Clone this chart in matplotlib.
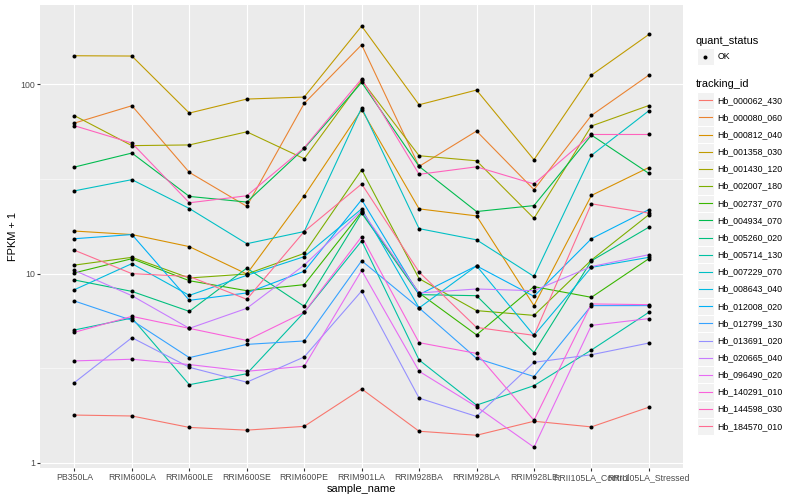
import matplotlib
matplotlib.use("Agg")
import matplotlib.pyplot as plt
from matplotlib.patches import Rectangle
from matplotlib.lines import Line2D
from matplotlib.ticker import FixedLocator, NullFormatter
import numpy as np

samples = ["PB350LA", "RRIM600LA", "RRIM600LE", "RRIM600SE", "RRIM600PE", "RRIM901LA",
           "RRIM928BA", "RRIM928LA", "RRIM928LE", "RRII105LA_Control", "RRII105LA_Stressed"]

tracking_ids = ["Hb_000062_430", "Hb_000080_060", "Hb_000812_040", "Hb_001358_030",
                "Hb_001430_120", "Hb_002007_180", "Hb_002737_070", "Hb_004934_070",
                "Hb_005260_020", "Hb_005714_130", "Hb_007229_070", "Hb_008643_040",
                "Hb_012008_020", "Hb_012799_130", "Hb_013691_020", "Hb_020665_040",
                "Hb_096490_020", "Hb_140291_010", "Hb_144598_030", "Hb_184570_010"]

# FPKM + 1 per sample
hb_000062_430 = [1.79, 1.77, 1.54, 1.49, 1.56, 2.46, 1.47, 1.40, 1.66, 1.55, 1.97]
hb_000080_060 = [62.5, 77.2, 34.3, 22.7, 79.4, 162, 36.9, 56.7, 27.8, 68.6, 112]
hb_000812_040 = [16.8, 16.1, 13.9, 9.96, 25.8, 73.5, 22.0, 20.2, 6.78, 25.9, 36.4]
hb_001358_030 = [141.8, 141.3, 70.6, 83.7, 85.8, 203.5, 78.1, 93.4, 40.0, 112, 183.7]
hb_001430_120 = [68.4, 47.5, 47.9, 56.2, 40.5, 105, 42.0, 39.5, 19.6, 60.3, 77.4]
hb_002007_180 = [11.1, 12.2, 9.49, 9.96, 12.8, 35.4, 9.41, 6.38, 6.02, 11.8, 20.5]
hb_002737_070 = [10.1, 12.0, 9.18, 8.13, 8.75, 21.2, 7.91, 4.75, 8.54, 7.50, 12.0]
hb_004934_070 = [36.6, 43.4, 25.6, 23.9, 45.9, 102.5, 36.9, 21.3, 22.9, 54.0, 33.9]
hb_005260_020 = [9.26, 8.06, 6.32, 10.7, 6.72, 20.9, 7.75, 7.65, 3.83, 11.7, 17.6]
hb_005714_130 = [5.04, 5.83, 2.59, 2.96, 6.25, 14.9, 3.50, 2.02, 2.56, 3.95, 6.25]
hb_007229_070 = [27.4, 31.4, 22.1, 14.4, 16.7, 75.3, 17.3, 15.1, 9.67, 42.2, 72.6]
hb_008643_040 = [8.23, 11.3, 7.68, 9.80, 12.3, 22.0, 6.59, 11.0, 4.72, 10.8, 12.2]
hb_012008_020 = [15.3, 16.1, 7.23, 7.91, 10.3, 24.6, 7.75, 11.0, 7.59, 15.3, 21.8]
hb_012799_130 = [7.17, 5.67, 3.60, 4.23, 4.41, 11.7, 6.59, 3.57, 2.86, 6.78, 6.78]
hb_013691_020 = [2.66, 4.59, 3.20, 2.67, 3.63, 8.1, 2.20, 1.76, 3.40, 3.73, 4.30]
hb_020665_040 = [10.4, 7.65, 5.14, 6.56, 11.1, 21.5, 7.91, 8.30, 8.13, 10.9, 12.6]
hb_096490_020 = [3.46, 3.53, 3.31, 3.05, 3.24, 10.4, 3.05, 1.98, 1.21, 5.33, 5.79]
hb_140291_010 = [4.90, 5.95, 5.14, 4.44, 6.25, 15.7, 4.32, 3.79, 1.68, 6.92, 6.86]
hb_144598_030 = [60.5, 49.0, 23.7, 25.8, 46.3, 107, 33.5, 36.7, 29.8, 54.4, 54.4]
hb_184570_010 = [13.3, 10.0, 9.67, 7.32, 16.7, 29.8, 10.2, 5.20, 4.72, 23.4, 20.9]

series = [hb_000062_430, hb_000080_060, hb_000812_040, hb_001358_030, hb_001430_120,
          hb_002007_180, hb_002737_070, hb_004934_070, hb_005260_020, hb_005714_130,
          hb_007229_070, hb_008643_040, hb_012008_020, hb_012799_130, hb_013691_020,
          hb_020665_040, hb_096490_020, hb_140291_010, hb_144598_030, hb_184570_010]

# ggplot hue palette for 20 levels
palette = ["#F8766D", "#EA8331", "#D89000", "#C09B00", "#A3A500", "#7CAE00", "#39B600",
           "#00BB4E", "#00BF7D", "#00C1A3", "#00BFC4", "#00BAE0", "#00B0F6", "#35A2FF",
           "#9590FF", "#C77CFF", "#E76BF3", "#FA62DB", "#FF62BC", "#FF6C91"]

W, H, DPI = 800, 500, 72


def px(x, y):
    # pixel coords (from top-left) to figure fraction
    return x / W, 1 - y / H


def main():
    plt.rcParams['font.family'] = ['Liberation Sans', 'DejaVu Sans']
    fig = plt.figure(figsize=(W / DPI, H / DPI), dpi=DPI)
    left, top, right, bottom = 40, 5, 683.3, 468.3
    ax = fig.add_axes([left / W, 1 - bottom / H, (right - left) / W, (bottom - top) / H])
    ax.set_facecolor("#EBEBEB")
    for s in ax.spines.values():
        s.set_visible(False)

    x = np.arange(len(samples))
    for vals, col in zip(series, palette):
        ax.plot(x, vals, color=col, lw=1.1, zorder=2, solid_capstyle="butt")
    for vals in series:
        ax.plot(x, vals, "o", color="black", ms=4.0, mew=0, zorder=3)

    ax.set_yscale("log")
    logs = np.log10(np.concatenate(series))
    lo, hi = logs.min(), logs.max()
    pad = (hi - lo) * 0.05
    ax.set_ylim(10 ** (lo - pad), 10 ** (hi + pad))
    ax.set_xlim(-0.6, len(samples) - 0.4)

    ax.yaxis.set_major_locator(FixedLocator([1, 10, 100]))
    ax.set_yticklabels(["1", "10", "100"])
    ax.yaxis.set_minor_locator(FixedLocator([10 ** 0.5, 10 ** 1.5, 10 ** 2.5]))
    ax.yaxis.set_minor_formatter(NullFormatter())
    ax.set_xticks(x)
    ax.set_xticklabels(samples)

    ax.grid(which="major", color="white", lw=1.1, zorder=0)
    ax.grid(which="minor", axis="y", color="white", lw=0.55, zorder=0)
    ax.set_axisbelow(True)
    ax.tick_params(which="major", length=2.75, width=1.1, color="#333333",
                   labelsize=8.8, labelcolor="#4D4D4D", pad=2.2)
    ax.tick_params(which="minor", length=0)

    ax.set_xlabel("sample_name", fontsize=11, labelpad=1.5)
    ax.set_ylabel("FPKM + 1", fontsize=11, labelpad=2)

    # legends
    fig.text(*px(696, 40.7), "quant_status", fontsize=11, va="center", ha="left")
    ks = 17.2
    kx = 696.5
    ky = 56.7
    fig.patches.append(Rectangle(px(kx, ky + ks / 2), ks / W, ks / H, transform=fig.transFigure,
                                 facecolor="#F2F2F2", edgecolor="white", lw=1.0))
    fig.lines.append(Line2D([(kx + ks / 2) / W], [1 - ky / H], transform=fig.transFigure,
                            marker="o", ms=4.0, mew=0, color="black", ls="none"))
    fig.text(*px(kx + ks + 3.5, ky), "OK", fontsize=8.8, va="center", ha="left")

    fig.text(*px(696, 84), "tracking_id", fontsize=11, va="center", ha="left")
    y0 = 100.3
    step = 17.16
    for i, (name, col) in enumerate(zip(tracking_ids, palette)):
        yy = y0 + i * step
        fig.patches.append(Rectangle(px(kx, yy + ks / 2), ks / W, ks / H, transform=fig.transFigure,
                                     facecolor="#F2F2F2", edgecolor="white", lw=1.0))
        fig.lines.append(Line2D([(kx + 2) / W, (kx + ks - 2) / W], [1 - yy / H, 1 - yy / H],
                                transform=fig.transFigure, color=col, lw=1.1))
        fig.text(*px(kx + ks + 3.5, yy), name, fontsize=8.8, va="center", ha="left")

    fig.savefig("out.png", dpi=DPI, facecolor="white")


if __name__ == '__main__':
    main()
